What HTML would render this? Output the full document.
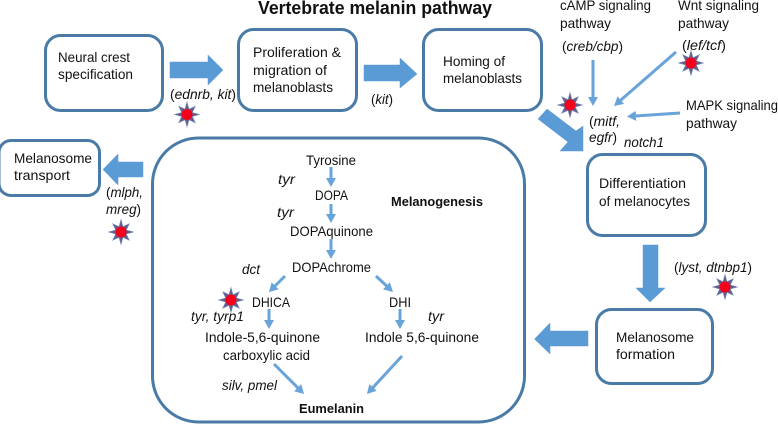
<!DOCTYPE html>
<html><head><meta charset="utf-8"><style>
html,body{margin:0;padding:0;background:#fff;width:778px;height:425px;overflow:hidden}
svg{display:block}
text{font-family:"Liberation Sans",sans-serif;font-size:14px;fill:#111}
.b{font-weight:bold}
.i{font-style:italic}
.box{fill:#fff;stroke:#4a7ba7;stroke-width:3}
.blk{fill:#5b9bd5;stroke:#5b9bd5;stroke-width:.5}
.ln{stroke:#68a3d9;stroke-width:3;fill:none}
</style></head><body>
<svg width="778" height="425" viewBox="0 0 778 425" xmlns="http://www.w3.org/2000/svg">
<defs>
<marker id="a" markerUnits="userSpaceOnUse" markerWidth="10" markerHeight="11" refX="6" refY="5.500" orient="auto"><path d="M0 0.500L9 5.500L0 10.500z" fill="#68a3d9"/></marker>
<g id="st">
<polygon points="0,-12.5 2,-5.3 8.300,-8.300 5.300,-2 12.5,0 5.300,2 8.300,8.300 2,5.300 0,12.5 -2,5.300 -8.300,8.300 -5.300,2 -12.5,0 -5.300,-2 -8.300,-8.300 -2,-5.300" fill="#6b5a86" stroke="#6f8fc0" stroke-width=".6"/>
<circle r="5.500" fill="#f5001c"/>
</g>
</defs>

<rect class="box" x="45.5" y="35.5" width="117" height="75" rx="15"/>
<rect class="box" x="238.5" y="29.5" width="118" height="81" rx="15"/>
<rect class="box" x="423.5" y="29.5" width="118" height="81" rx="15"/>
<rect class="box" x="-1" y="140.5" width="100.5" height="55" rx="12"/>
<rect class="box" x="152.5" y="138" width="372" height="284" rx="46"/>
<rect class="box" x="587.5" y="154.5" width="118" height="81" rx="15"/>
<rect class="box" x="596.5" y="309.5" width="116" height="74" rx="15"/>

<polygon class="blk" points="170,62 208,62 208,55 223,70 208,85 208,78 170,78"/>
<polygon class="blk" points="364,65 400,65 400,58 417,74 400,88 400,81 364,81"/>
<polygon class="blk" points="143,162 118,162 118,154 103,169.500 118,185 118,177 143,177"/>
<polygon class="blk" points="547,109 576,131 583,126 583,151 560,151 568,142 538,119"/>
<polygon class="blk" points="643,245 658,245 658,288 665,288 650,302 636,288 643,288"/>
<polygon class="blk" points="588,331 550,331 550,323 534.500,339 550,354 550,346 588,346"/>

<path class="ln" marker-end="url(#a)" d="M593 60V103"/>
<path class="ln" marker-end="url(#a)" d="M676 52L616.300 104"/>
<path class="ln" marker-end="url(#a)" d="M680 113L630 116.300"/>
<path class="ln" marker-end="url(#a)" d="M331 167V184"/>
<path class="ln" marker-end="url(#a)" d="M331 204V220"/>
<path class="ln" marker-end="url(#a)" d="M331 239V256"/>
<path class="ln" marker-end="url(#a)" d="M285 276L271 290"/>
<path class="ln" marker-end="url(#a)" d="M376 276L390.800 289.900"/>
<path class="ln" marker-end="url(#a)" d="M269 309V326"/>
<path class="ln" marker-end="url(#a)" d="M400 309V326"/>
<path class="ln" marker-end="url(#a)" d="M274 364L301.900 391.900"/>
<path class="ln" marker-end="url(#a)" d="M402 356L369 391.800"/>

<use href="#st" x="187" y="114.500"/>
<use href="#st" x="121" y="232"/>
<use href="#st" x="570" y="105"/>
<use href="#st" x="691" y="63"/>
<use href="#st" x="231" y="300"/>
<use href="#st" x="725" y="287"/>

<text class="b" x="258" y="14" textLength="234" lengthAdjust="spacingAndGlyphs" style="font-size:18px">Vertebrate melanin pathway</text>

<text x="58" y="62" textLength="72" lengthAdjust="spacingAndGlyphs">Neural crest</text>
<text x="58" y="79" textLength="75" lengthAdjust="spacingAndGlyphs">specification</text>
<text x="253" y="57" textLength="88" lengthAdjust="spacingAndGlyphs">Proliferation &amp;</text>
<text x="253" y="75" textLength="74" lengthAdjust="spacingAndGlyphs">migration of</text>
<text x="253" y="92" textLength="80" lengthAdjust="spacingAndGlyphs">melanoblasts</text>
<text x="443" y="66" textLength="62" lengthAdjust="spacingAndGlyphs">Homing of</text>
<text x="443" y="83" textLength="79" lengthAdjust="spacingAndGlyphs">melanoblasts</text>
<text x="170" y="99" textLength="66" lengthAdjust="spacingAndGlyphs">(<tspan class="i">ednrb, kit</tspan>)</text>
<text x="371" y="104" textLength="22" lengthAdjust="spacingAndGlyphs">(<tspan class="i">kit</tspan>)</text>
<text x="14" y="163" textLength="78" lengthAdjust="spacingAndGlyphs">Melanosome</text>
<text x="14" y="180" textLength="56" lengthAdjust="spacingAndGlyphs">transport</text>
<text x="106" y="197" textLength="37" lengthAdjust="spacingAndGlyphs">(<tspan class="i">mlph,</tspan></text>
<text x="106" y="214" textLength="35" lengthAdjust="spacingAndGlyphs"><tspan class="i">mreg</tspan>)</text>

<text x="560" y="10" textLength="91" lengthAdjust="spacingAndGlyphs">cAMP signaling</text>
<text x="560" y="28" textLength="51" lengthAdjust="spacingAndGlyphs">pathway</text>
<text x="562" y="51" textLength="61" lengthAdjust="spacingAndGlyphs">(<tspan class="i">creb/cbp</tspan>)</text>
<text x="678" y="10" textLength="81" lengthAdjust="spacingAndGlyphs">Wnt signaling</text>
<text x="678" y="28" textLength="51" lengthAdjust="spacingAndGlyphs">pathway</text>
<text x="682" y="50" textLength="44" lengthAdjust="spacingAndGlyphs">(<tspan class="i">lef/tcf</tspan>)</text>
<text x="686" y="110" textLength="92" lengthAdjust="spacingAndGlyphs">MAPK signaling</text>
<text x="686" y="128" textLength="51" lengthAdjust="spacingAndGlyphs">pathway</text>
<text x="589" y="126" textLength="31" lengthAdjust="spacingAndGlyphs">(<tspan class="i">mitf,</tspan></text>
<text x="589" y="142" textLength="28" lengthAdjust="spacingAndGlyphs"><tspan class="i">egfr</tspan>)</text>
<text class="i" x="624" y="147" textLength="40" lengthAdjust="spacingAndGlyphs">notch1</text>

<text x="599" y="188" textLength="87" lengthAdjust="spacingAndGlyphs">Differentiation</text>
<text x="599" y="206" textLength="91" lengthAdjust="spacingAndGlyphs">of melanocytes</text>
<text x="674" y="272" textLength="78" lengthAdjust="spacingAndGlyphs">(<tspan class="i">lyst, dtnbp1</tspan>)</text>
<text x="616" y="342" textLength="78" lengthAdjust="spacingAndGlyphs">Melanosome</text>
<text x="616" y="359" textLength="59" lengthAdjust="spacingAndGlyphs">formation</text>

<text x="306" y="165" textLength="50" lengthAdjust="spacingAndGlyphs">Tyrosine</text>
<text class="i" x="278" y="184" textLength="17" lengthAdjust="spacingAndGlyphs">tyr</text>
<text x="315" y="200" textLength="33" lengthAdjust="spacingAndGlyphs">DOPA</text>
<text class="b" x="391" y="206" textLength="92" lengthAdjust="spacingAndGlyphs" style="font-size:13px">Melanogenesis</text>
<text class="i" x="277" y="217" textLength="17" lengthAdjust="spacingAndGlyphs">tyr</text>
<text x="290" y="236" textLength="83" lengthAdjust="spacingAndGlyphs">DOPAquinone</text>
<text x="292" y="272" textLength="79" lengthAdjust="spacingAndGlyphs">DOPAchrome</text>
<text class="i" x="242" y="274" textLength="18" lengthAdjust="spacingAndGlyphs">dct</text>
<text x="252" y="307" textLength="38" lengthAdjust="spacingAndGlyphs">DHICA</text>
<text x="389" y="307" textLength="22" lengthAdjust="spacingAndGlyphs">DHI</text>
<text class="i" x="191" y="321" textLength="53" lengthAdjust="spacingAndGlyphs">tyr, tyrp1</text>
<text class="i" x="428" y="321" textLength="16" lengthAdjust="spacingAndGlyphs">tyr</text>
<text x="205" y="342" textLength="115" lengthAdjust="spacingAndGlyphs">Indole-5,6-quinone</text>
<text x="223" y="360" textLength="87" lengthAdjust="spacingAndGlyphs">carboxylic acid</text>
<text x="365" y="342" textLength="114" lengthAdjust="spacingAndGlyphs">Indole 5,6-quinone</text>
<text class="i" x="222" y="390" textLength="55" lengthAdjust="spacingAndGlyphs">silv, pmel</text>
<text class="b" x="299" y="413" textLength="65" lengthAdjust="spacingAndGlyphs" style="font-size:13px">Eumelanin</text>
</svg>
</body></html>
